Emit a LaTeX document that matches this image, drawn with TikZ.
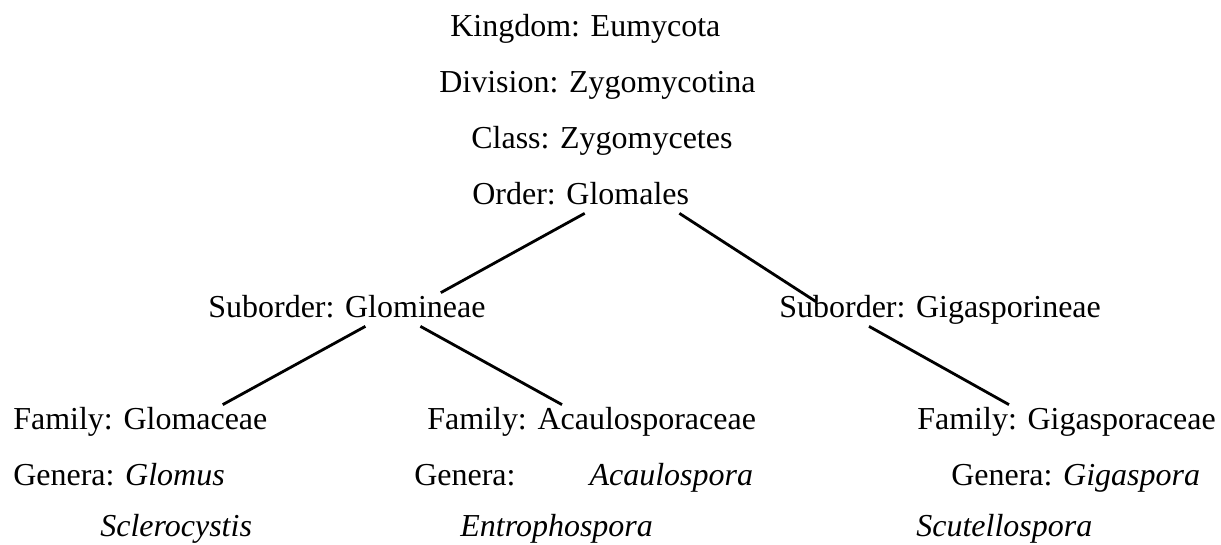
\documentclass[tikz,border=0pt]{standalone}
\usepackage{fontspec}
\setmainfont{Liberation Serif}
\tikzset{
  taxon/.style={anchor=base west, inner sep=0pt, text height=0.5cm, text depth=0.16cm,
    font=\fontsize{18.2pt}{22pt}\selectfont},
  branch/.style={line width=1.6pt}
}
\begin{document}
\begin{tikzpicture}

\useasboundingbox (0,0) rectangle (24.42,10.88);

% Upper ranks
\node[taxon] (kingdom) at (9.00,10.14) {Kingdom: Eumycota};
\node[taxon] (division) at (8.78,9.02) {Division: Zygomycotina};
\node[taxon] (class) at (9.42,7.90) {Class: Zygomycetes};
\node[taxon] (order) at (9.44,6.78) {Order: Glomales};

% Suborders
\node[taxon] (glomineae) at (4.16,4.52) {Suborder: Glomineae};
\node[taxon] (gigasporineae) at (15.58,4.52) {Suborder: Gigasporineae};

% Families
\node[taxon] (glomaceae) at (0.26,2.28) {Family: Glomaceae};
\node[taxon] (acaulosporaceae) at (8.54,2.28) {Family: Acaulosporaceae};
\node[taxon] (gigasporaceae) at (18.34,2.28) {Family: Gigasporaceae};

% Genera
\node[taxon] (glomus) at (0.26,1.18) {Genera: \textit{Glomus}};
\node[taxon] (acaulospora) at (8.28,1.18) {Genera:\hspace{1.48cm}\textit{Acaulospora}};
\node[taxon] (gigaspora) at (19.02,1.18) {Genera: \textit{Gigaspora}};
\node[taxon] (sclerocystis) at (2.00,0.15) {\textit{Sclerocystis}};
\node[taxon] (entrophospora) at (9.20,0.15) {\textit{Entrophospora}};
\node[taxon] (scutellospora) at (18.32,0.15) {\textit{Scutellospora}};

% Branches
\draw[branch] ([xshift=0.08cm]order.south) -- ([xshift=-0.9cm]glomineae.north east);
\draw[branch] ([xshift=-0.2cm]order.south east) -- ([xshift=0.74cm,yshift=-0.18cm]gigasporineae.north west);
\draw[branch] ([xshift=0.37cm]glomineae.south) -- ([xshift=-0.9cm]glomaceae.north east);
\draw[branch] ([xshift=1.47cm]glomineae.south) -- ([xshift=2.7cm]acaulosporaceae.north west);
\draw[branch] ([xshift=1.8cm]gigasporineae.south west) -- ([xshift=1.84cm]gigasporaceae.north west);

\end{tikzpicture}
\end{document}
